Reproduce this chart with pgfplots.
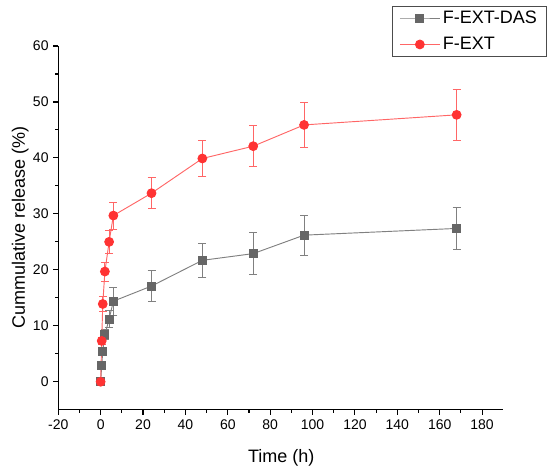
\documentclass[border=0pt]{standalone}
\usepackage{pgfplots}
\pgfplotsset{compat=1.18}
\usepackage{pgfplotstable}
\usepackage{fontspec}
\setmainfont{Liberation Sans}
\definecolor{gmark}{HTML}{666666}
\definecolor{gline}{HTML}{808080}
\definecolor{rmark}{HTML}{FF3333}
\definecolor{rline}{HTML}{FF6666}
\pgfplotstableread{
t y e
0 0 0
0.5 2.9 0.4
1 5.4 0.6
2 8.4 0.9
4 11.2 1.5
6 14.4 2.5
24 17.1 2.7
48 21.7 3.1
72 22.9 3.8
96 26.2 3.6
168 27.4 3.7
}\dasdata
\pgfplotstableread{
t y e
0 0 0
0.5 7.3 0.6
1 13.9 1.3
2 19.7 1.7
4 25.0 2.1
6 29.7 2.4
24 33.7 2.8
48 39.9 3.3
72 42.1 3.7
96 45.9 4.1
168 47.7 4.5
}\extdata
\begin{document}
\begin{tikzpicture}
\path[use as bounding box] (0,0) rectangle (412.5pt,354pt);
\begin{axis}[
  at={(43.7pt,46.7pt)}, anchor=south west,
  scale only axis, width=333.75pt, height=272.8pt,
  xmin=-20, xmax=190, ymin=-5, ymax=60,
  axis x line=bottom, axis y line=left,
  axis line style={-, line width=0.9pt},
  xtick={-20,0,...,180}, ytick={0,10,...,60},
  minor x tick num=1, minor y tick num=1,
  tick align=outside,
  major tick length=3.75pt, minor tick length=2.25pt,
  every tick/.style={black, line width=0.8pt},
  /pgf/number format/assume math mode=true,
  ticklabel style={font=\fontsize{10.5}{12}\selectfont},
  xlabel={Time (h)}, ylabel={Cummulative release (\%)},
  label style={font=\fontsize{13.5}{16}\selectfont},
  xlabel style={at={(axis description cs:0.501,-0.1446)}, anchor=base},
  ylabel style={at={(axis description cs:-0.075,0.5)}, anchor=base},
  legend style={at={(axis description cs:1.0975,1.111)}, anchor=north east,
    draw=black!70, line width=0.6pt, font=\fontsize{13.5}{16}\selectfont,
    inner xsep=5pt, inner ysep=1.5pt, row sep=5pt, cells={anchor=west}},
  legend cell align=left,
  legend image code/.code={\draw[mark repeat=2,mark phase=2] plot coordinates {(0cm,0cm) (0.525cm,0cm) (1.05cm,0cm)};},
]
\addplot[color=gline, line width=0.7pt, mark=square*, mark size=3pt,
  mark options={fill=gmark, draw=gmark},
  error bars/.cd, y dir=both, y explicit,
  error bar style={color=gline, line width=0.7pt},
  error mark options={rotate=90, mark size=3pt, color=gline, line width=0.7pt}]
  table[x=t, y=y, y error=e] {\dasdata};
\addlegendentry{F-EXT-DAS}
\addplot[color=rline, line width=0.7pt, mark=*, mark size=3.3pt,
  mark options={fill=rmark, draw=rmark},
  error bars/.cd, y dir=both, y explicit,
  error bar style={color=rline, line width=0.7pt},
  error mark options={rotate=90, mark size=3pt, color=rline, line width=0.7pt}]
  table[x=t, y=y, y error=e] {\extdata};
\addlegendentry{F-EXT}
\end{axis}
\end{tikzpicture}
\end{document}
